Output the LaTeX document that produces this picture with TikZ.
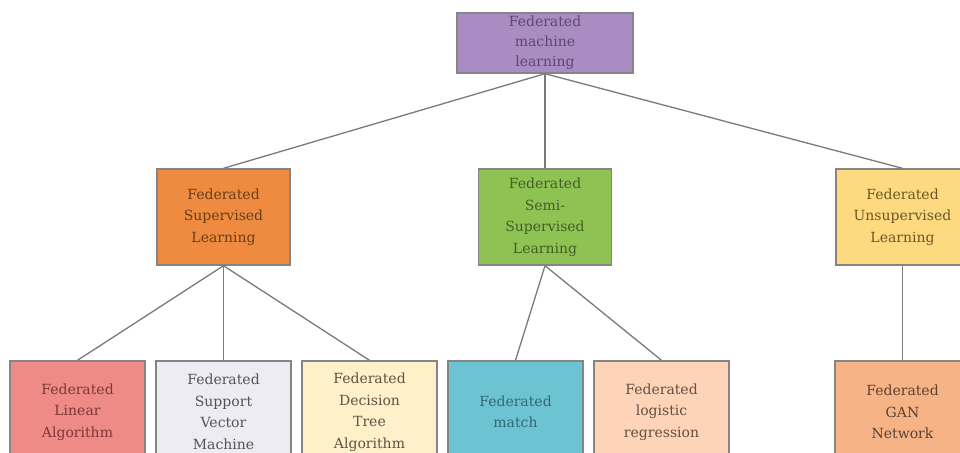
\documentclass[tikz,border=0pt]{standalone}
\usepackage{fontspec}
\setmainfont{DejaVu Serif}
\begin{document}
\begin{tikzpicture}[x=1pt,y=-1pt,
  box/.style={draw=boxline, line width=1.4pt, rectangle, inner sep=0pt,
    align=center, font=\fontsize{14}{21.5}\selectfont},
  topbox/.style={box, minimum width=176pt, minimum height=60pt,
    font=\fontsize{14}{20}\selectfont},
  midbox/.style={box, minimum width=133pt, minimum height=96pt},
  leafbox/.style={box, minimum width=135pt, minimum height=102pt},
  link/.style={draw=linkgray, line width=1.3pt}
]
\definecolor{boxline}{HTML}{858585}
\definecolor{linkgray}{HTML}{7A7A7A}
% fills and text colours
\definecolor{fTop}{HTML}{AA8CC2}\definecolor{tTop}{HTML}{5C4874}
\definecolor{fSup}{HTML}{EE8B40}\definecolor{tSup}{HTML}{6A3E18}
\definecolor{fSemi}{HTML}{8EC253}\definecolor{tSemi}{HTML}{445F26}
\definecolor{fUns}{HTML}{FDDA80}\definecolor{tUns}{HTML}{6C5626}
\definecolor{fLin}{HTML}{EE8B86}\definecolor{tLin}{HTML}{803636}
\definecolor{fSvm}{HTML}{EDEBF3}\definecolor{tSvm}{HTML}{545458}
\definecolor{fDt}{HTML}{FEF1CA}\definecolor{tDt}{HTML}{5C5242}
\definecolor{fMat}{HTML}{6CC3D2}\definecolor{tMat}{HTML}{336874}
\definecolor{fLog}{HTML}{FDD4B7}\definecolor{tLog}{HTML}{664E40}
\definecolor{fGan}{HTML}{F6B386}\definecolor{tGan}{HTML}{5C4232}

\useasboundingbox (0,0) rectangle (960,452);
\clip (0,0) rectangle (960,452);
\fill[white] (0,0) rectangle (960,452);

% root
\node[topbox, fill=fTop, text=tTop] (fml) at (545,43) {Federated\\machine\\learning};

% second level
\node[midbox, fill=fSup, text=tSup] (sup) at (223.5,217) {Federated\\Supervised\\Learning};
\node[midbox, fill=fSemi, text=tSemi] (semi) at (545,217) {Federated\\Semi-\\Supervised\\Learning};
\node[midbox, fill=fUns, text=tUns] (uns) at (902.5,217) {Federated\\Unsupervised\\Learning};

% leaves
\node[leafbox, fill=fLin, text=tLin] (lin) at (77.5,412) {Federated\\Linear\\Algorithm};
\node[leafbox, fill=fSvm, text=tSvm] (svm) at (223.5,412) {Federated\\Support\\Vector\\Machine};
\node[leafbox, fill=fDt, text=tDt] (dt) at (369.5,412) {Federated\\Decision\\Tree\\Algorithm};
\node[leafbox, fill=fMat, text=tMat] (mat) at (515.5,412) {Federated\\match};
\node[leafbox, fill=fLog, text=tLog] (log) at (661.5,412) {Federated\\logistic\\regression};
\node[leafbox, fill=fGan, text=tGan] (gan) at (902.5,412) {Federated\\GAN\\Network};

% connectors
\draw[link] (fml.south) -- (sup.north);
\draw[link] (fml.south) -- (semi.north);
\draw[link] (fml.south) -- (uns.north);
\draw[link] (sup.south) -- (lin.north);
\draw[link] (sup.south) -- (svm.north);
\draw[link] (sup.south) -- (dt.north);
\draw[link] (semi.south) -- (mat.north);
\draw[link] (semi.south) -- (log.north);
\draw[link] (uns.south) -- (gan.north);
\end{tikzpicture}
\end{document}
